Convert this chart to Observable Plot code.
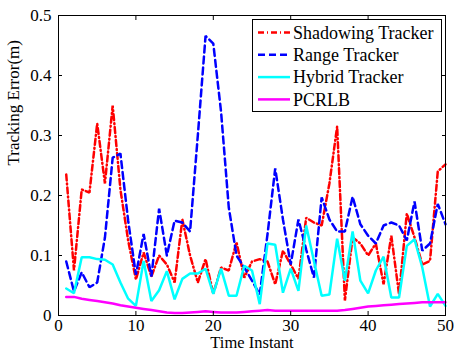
<!DOCTYPE html>
<html><head><meta charset="utf-8">
<script src="https://cdn.jsdelivr.net/npm/d3@7"></script>
<script src="https://cdn.jsdelivr.net/npm/@observablehq/plot@0.6"></script>
<style>body{margin:0;background:#fff;} svg{display:block;}</style>
</head><body><div id="chart"></div>
<script>
const timeInstant = [1,2,3,4,5,6,7,8,9,10,11,12,13,14,15,16,17,18,19,20,21,22,23,24,25,26,27,28,29,30,31,32,33,34,35,36,37,38,39,40,41,42,43,44,45,46,47,48,49,50];
const shadowingTracker = [0.235,0.075,0.21,0.205,0.32,0.22,0.35,0.21,0.125,0.06,0.105,0.065,0.1,0.085,0.055,0.16,0.1,0.055,0.094,0.036,0.08,0.075,0.122,0.063,0.09,0.094,0.09,0.052,0.108,0.085,0.061,0.163,0.155,0.15,0.22,0.315,0.025,0.13,0.12,0.1,0.12,0.052,0.133,0.035,0.17,0.13,0.085,0.091,0.24,0.252];
const rangeTracker = [0.09,0.04,0.072,0.047,0.055,0.13,0.263,0.27,0.158,0.068,0.136,0.065,0.178,0.1,0.158,0.155,0.14,0.3,0.466,0.453,0.34,0.18,0.1,0.08,0.058,0.035,0.135,0.245,0.16,0.085,0.16,0.11,0.063,0.197,0.16,0.14,0.14,0.198,0.152,0.133,0.12,0.15,0.155,0.15,0.125,0.19,0.108,0.12,0.186,0.152];
const hybridTracker = [0.045,0.037,0.097,0.097,0.094,0.093,0.085,0.055,0.028,0.016,0.091,0.024,0.042,0.074,0.027,0.061,0.07,0.07,0.078,0.036,0.078,0.033,0.033,0.083,0.075,0.019,0.12,0.118,0.038,0.078,0.041,0.15,0.091,0.033,0.035,0.128,0.058,0.14,0.058,0.037,0.075,0.098,0.03,0.03,0.116,0.127,0.08,0.015,0.036,0.016];
const pcrlb = [0.031,0.031,0.028,0.026,0.024,0.022,0.02,0.017,0.015,0.013,0.011,0.009,0.007,0.005,0.004,0.004,0.005,0.006,0.007,0.006,0.005,0.005,0.005,0.006,0.007,0.008,0.009,0.008,0.008,0.008,0.008,0.008,0.008,0.008,0.008,0.008,0.009,0.011,0.013,0.015,0.016,0.017,0.018,0.019,0.02,0.021,0.022,0.022,0.022,0.022];

const seriesNames = ["Shadowing Tracker","Range Tracker","Hybrid Tracker","PCRLB"];
const seriesValues = [shadowingTracker, rangeTracker, hybridTracker, pcrlb];
const seriesColors = ["#ff0000","#0000ff","#00ffff","#ff00ff"];
const seriesDash = ["6,3,1,3","7,4",null,null];
const xTicks = [0,10,20,30,40,50];
const yTicks = [0,0.1,0.2,0.3,0.4,0.5];
const yTickLabels = ["0","0.1","0.2","0.3","0.4","0.5"];

const font = "'Liberation Serif', 'Times New Roman', serif";

const lineMarks = seriesValues.map((vals, i) => Plot.line(
  timeInstant.map((t, j) => ({t, v: vals[j]})),
  {x: "t", y: "v", stroke: seriesColors[i], strokeWidth: 2.5, strokeDasharray: seriesDash[i], strokeLinejoin: "miter"}
));

const chart = Plot.plot({
  width: 455, height: 351,
  marginLeft: 58, marginRight: 10, marginTop: 15, marginBottom: 36,
  style: {fontFamily: font, fontSize: "17px", background: "#fff", color: "#000"},
  x: {domain: [0, 50], label: null},
  y: {domain: [0, 0.5], label: null},
  marks: [
    ...lineMarks,
    Plot.frame({stroke: "#000", strokeWidth: 1}),
    Plot.axisX(xTicks, {anchor: "bottom", tickSize: -4, tickPadding: 7, tickFormat: d => String(d), fontSize: 17}),
    Plot.axisX(xTicks, {anchor: "top", tickSize: -4, tickFormat: () => ""}),
    Plot.axisY(yTicks, {anchor: "left", tickSize: -4, tickPadding: 11, tickFormat: d => yTickLabels[yTicks.indexOf(d)], fontSize: 17}),
    Plot.axisY(yTicks, {anchor: "right", tickSize: -4, tickFormat: () => ""}),
    Plot.text(["Time Instant"], {frameAnchor: "bottom", dy: 27.5, fontSize: 16.5, lineAnchor: "middle"}),
    Plot.text(["Tracking Error(m)"], {frameAnchor: "left", dx: -45, rotate: -90, fontSize: 17})
  ]
});

document.getElementById("chart").appendChild(chart);

// legend
const svg = d3.select(chart);
const lg = svg.append("g").attr("font-family", font).attr("font-size", 18).attr("text-anchor", "start");
lg.append("rect").attr("x", 252.5).attr("y", 19.5).attr("width", 189).attr("height", 92)
  .attr("fill", "#fff").attr("stroke", "#000").attr("stroke-width", 1);
seriesNames.forEach((name, i) => {
  const yy = 32.5 + i * 22.3;
  lg.append("line").attr("x1", 258).attr("x2", 290).attr("y1", yy).attr("y2", yy)
    .attr("stroke", seriesColors[i]).attr("stroke-width", 2.5)
    .attr("stroke-dasharray", seriesDash[i]);
  lg.append("text").attr("x", 293).attr("y", yy).attr("dy", "0.35em").attr("text-anchor", "start").text(name);
});
</script>
</body></html>
